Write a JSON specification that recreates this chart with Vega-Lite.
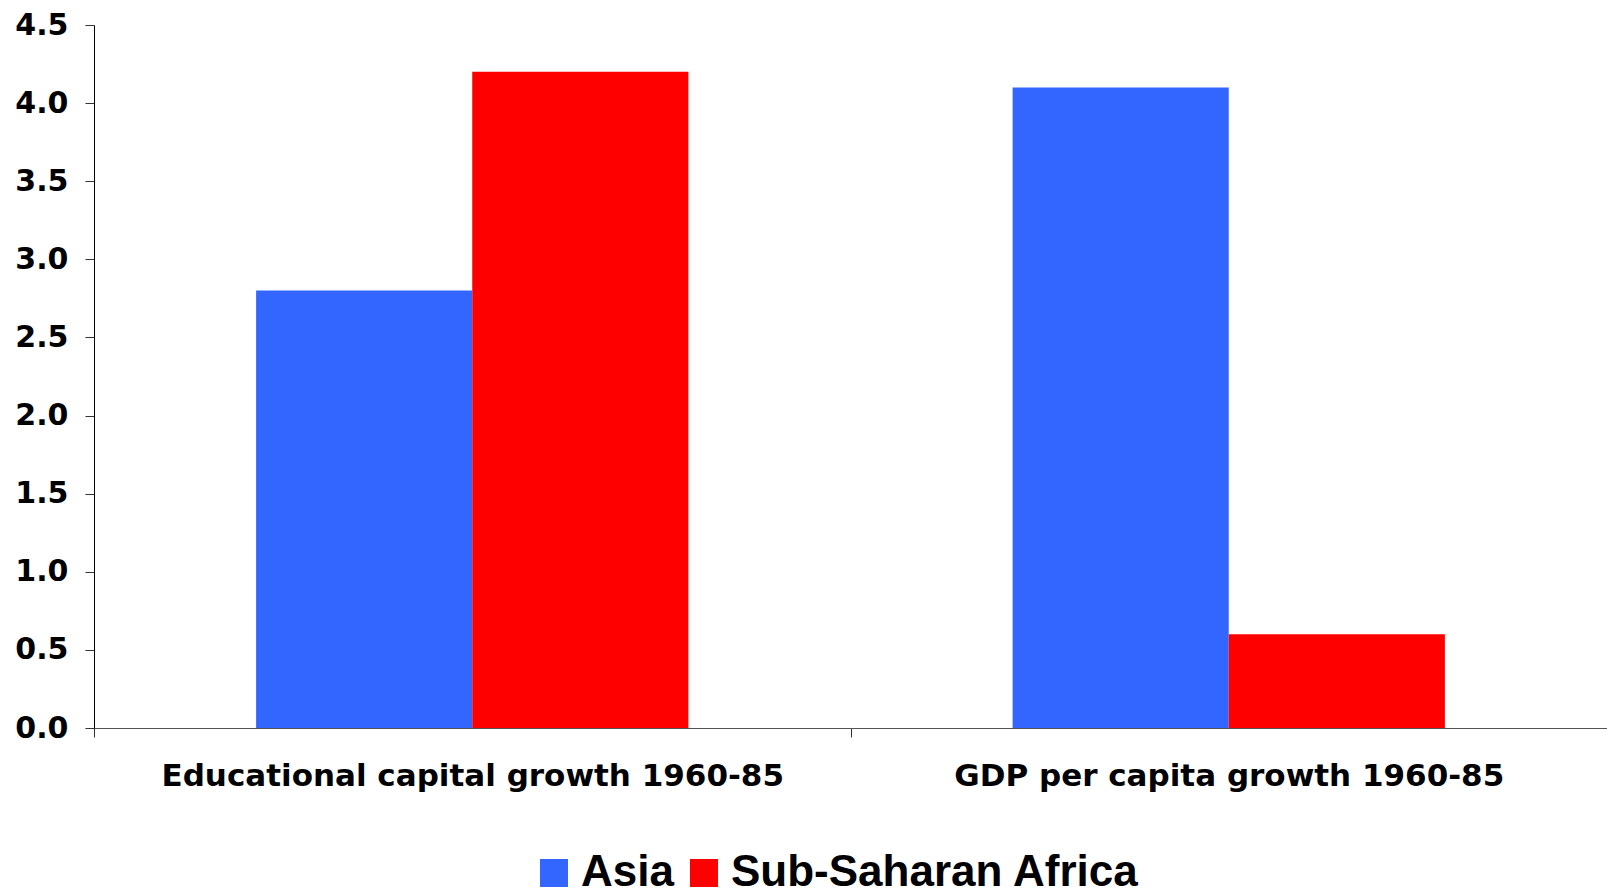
{
  "$schema": "https://vega.github.io/schema/vega-lite/v6.json",
  "autosize": {"type": "none"},
  "padding": {"left": 94, "top": 25, "right": 0, "bottom": 161},
  "width": 1513,
  "height": 703,
  "background": "white",
  "config": {"view": {"stroke": null}},
  "data": {
    "values": [
      {"measure": "Educational capital growth 1960-85", "region": "Asia", "value": 2.8},
      {"measure": "Educational capital growth 1960-85", "region": "Sub-Saharan Africa", "value": 4.2},
      {"measure": "GDP per capita growth 1960-85", "region": "Asia", "value": 4.1},
      {"measure": "GDP per capita growth 1960-85", "region": "Sub-Saharan Africa", "value": 0.6}
    ]
  },
  "mark": {"type": "bar", "clip": false},
  "encoding": {
    "x": {
      "field": "measure",
      "type": "nominal",
      "sort": null,
      "scale": {"paddingInner": 0, "paddingOuter": 0},
      "axis": {
        "title": null,
        "labelAngle": 0,
        "tickBand": "extent",
        "domainColor": "#555555",
        "tickColor": "#333333",
        "tickSize": 9,
        "labelFont": "DejaVu Sans",
        "labelFontWeight": "bold",
        "labelFontSize": 31,
        "labelColor": "black",
        "labelPadding": 24,
        "labelLimit": 0
      }
    },
    "xOffset": {
      "field": "region",
      "type": "nominal",
      "scale": {"paddingInner": 0, "paddingOuter": 0.75}
    },
    "y": {
      "field": "value",
      "type": "quantitative",
      "scale": {"domain": [0, 4.5], "nice": false},
      "axis": {
        "title": null,
        "values": [0, 0.5, 1, 1.5, 2, 2.5, 3, 3.5, 4, 4.5],
        "format": ".1f",
        "grid": false,
        "domainColor": "black",
        "tickColor": "#333333",
        "tickSize": 9,
        "labelFont": "DejaVu Sans",
        "labelFontWeight": "bold",
        "labelFontSize": 30,
        "labelColor": "black",
        "labelPadding": 17
      }
    },
    "color": {
      "field": "region",
      "type": "nominal",
      "scale": {"domain": ["Asia", "Sub-Saharan Africa"], "range": ["#3366FF", "#FF0000"]},
      "legend": {
        "title": null,
        "orient": "none",
        "legendX": 438,
        "legendY": 826,
        "direction": "horizontal",
        "symbolType": "square",
        "symbolSize": 784,
        "symbolStrokeWidth": 0,
        "symbolOpacity": 1,
        "labelFont": "Liberation Sans",
        "labelFontWeight": "bold",
        "labelFontSize": 44,
        "labelColor": "black",
        "labelOffset": 5,
        "columnPadding": 8,
        "labelLimit": 0
      }
    }
  }
}
